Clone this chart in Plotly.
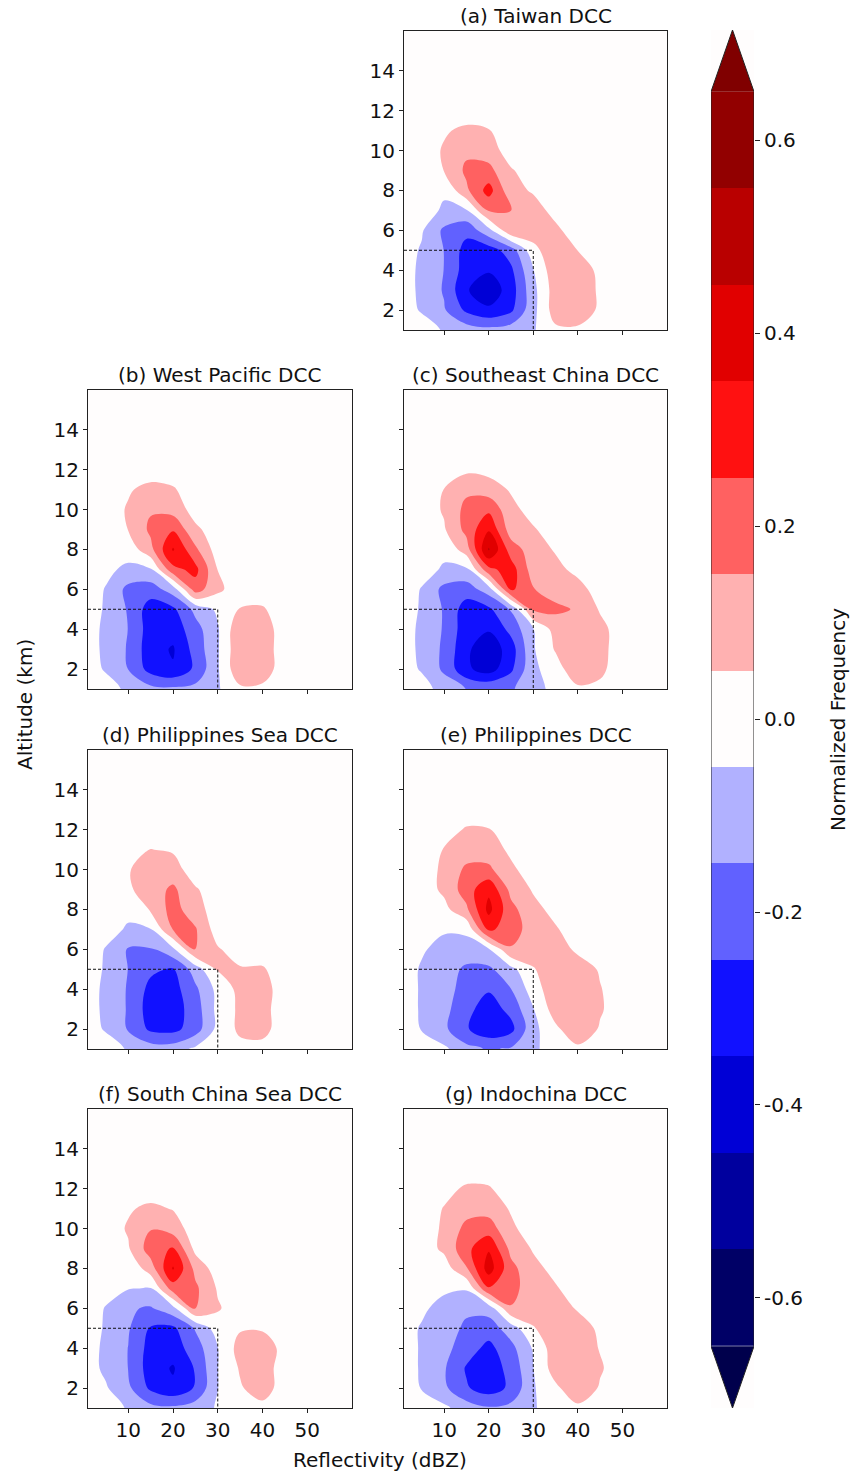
import numpy as np
import plotly.graph_objects as go

# Bin centres of the joint reflectivity / altitude histogram
DBZ = [0, 5, 10, 15, 20, 25, 30, 35, 40, 45, 50, 55, 60]
ALT = [1, 2, 3, 4, 5, 6, 7, 8, 9, 10, 11, 12, 13, 14, 15, 16]

# Normalized-frequency differences, rows = altitude 1..12 km, cols = 0..50 dBZ
# (higher altitudes / reflectivities are zero)
TAIWAN = [
    [0, 0, -0.06, -0.1, -0.12, -0.1, -0.06, 0.03, 0.03, 0.0, 0],
    [0, -0.06, -0.14, -0.27, -0.33, -0.27, -0.08, 0.1, 0.12, 0.03, 0],
    [0, -0.07, -0.16, -0.34, -0.42, -0.3, -0.08, 0.1, 0.13, 0.03, 0],
    [0, -0.07, -0.152, -0.3, -0.34, -0.27, -0.055, 0.12, 0.12, 0.02, 0],
    [0, -0.06, -0.152, -0.29, -0.3, -0.2, 0.02, 0.12, 0.048, 0, 0],
    [0, -0.04, -0.17, -0.22, -0.08, 0.13, 0.1, 0.07, 0, 0, 0],
    [0, -0.02, -0.06, -0.06, 0.16, 0.152, 0.09, 0.02, 0, 0, 0],
    [0, 0, -0.04, 0.13, 0.29, 0.08, 0.04, 0, 0, 0, 0],
    [0, 0, 0.052, 0.17, 0.18, 0.06, 0, 0, 0, 0, 0],
    [0, 0, 0.06, 0.13, 0.1, 0, 0, 0, 0, 0, 0],
    [0, 0, 0.04, 0.07, 0.055, 0, 0, 0, 0, 0, 0],
    [0, 0, 0, 0, 0, 0, 0, 0, 0, 0, 0],
]

WEST_PACIFIC = [
    [0, -0.01, -0.07, -0.12, -0.13, -0.12, -0.06, 0.03, 0.03, 0, 0],
    [0, -0.06, -0.152, -0.29, -0.34, -0.23, -0.06, 0.13, 0.1, 0, 0],
    [0, -0.07, -0.16, -0.31, -0.36, -0.21, -0.06, 0.13, 0.1, 0, 0],
    [0, -0.07, -0.152, -0.3, -0.31, -0.19, -0.06, 0.13, 0.1, 0, 0],
    [0, -0.06, -0.16, -0.3, -0.27, -0.12, -0.03, 0.055, 0.06, 0, 0],
    [0, -0.055, -0.18, -0.2, -0.1, 0.2, 0.07, 0.0, 0, 0, 0],
    [0, -0.03, -0.07, -0.06, 0.22, 0.28, 0.048, 0, 0, 0, 0],
    [0, 0, -0.01, 0.12, 0.36, 0.17, 0.0, 0, 0, 0, 0],
    [0, 0, 0.052, 0.17, 0.24, 0.07, 0, 0, 0, 0, 0],
    [0, 0, 0.06, 0.14, 0.11, 0.01, 0, 0, 0, 0, 0],
    [0, 0, 0.04, 0.08, 0.06, 0, 0, 0, 0, 0, 0],
    [0, 0, 0, 0, 0, 0, 0, 0, 0, 0, 0],
]

SOUTHEAST_CHINA = [
    [0, -0.01, -0.09, -0.152, -0.16, -0.16, -0.1, -0.01, 0.03, 0.03, 0],
    [0, -0.06, -0.17, -0.33, -0.4, -0.27, -0.07, 0.0, 0.13, 0.07, 0],
    [0, -0.07, -0.17, -0.33, -0.42, -0.3, -0.06, 0.06, 0.14, 0.08, 0],
    [0, -0.07, -0.16, -0.31, -0.34, -0.22, -0.055, 0.09, 0.12, 0.08, 0],
    [0, -0.06, -0.16, -0.3, -0.27, -0.14, 0.17, 0.17, 0.14, 0.04, 0],
    [0, -0.055, -0.18, -0.2, -0.1, 0.27, 0.155, 0.11, 0.09, 0.0, 0],
    [0, -0.02, -0.06, -0.07, 0.22, 0.3, 0.1, 0.08, 0.02, 0, 0],
    [0, 0, -0.03, 0.1, 0.46, 0.2, 0.1, 0.04, 0, 0, 0],
    [0, 0, 0.04, 0.18, 0.34, 0.1, 0.06, 0, 0, 0, 0],
    [0, 0, 0.06, 0.18, 0.23, 0.08, 0.01, 0, 0, 0, 0],
    [0, 0, 0.052, 0.13, 0.1, 0.04, 0, 0, 0, 0, 0],
    [0, 0, 0.01, 0.03, 0.02, 0, 0, 0, 0, 0, 0],
]

PHILIPPINES_SEA = [
    [0, 0, -0.06, -0.1, -0.1, -0.03, 0, 0.02, 0.02, 0, 0],
    [0, -0.06, -0.16, -0.27, -0.28, -0.2, -0.02, 0.07, 0.08, 0, 0],
    [0, -0.07, -0.16, -0.3, -0.3, -0.2, -0.02, 0.07, 0.08, 0, 0],
    [0, -0.07, -0.16, -0.28, -0.29, -0.17, -0.02, 0.08, 0.09, 0, 0],
    [0, -0.06, -0.152, -0.23, -0.26, -0.1, 0.06, 0.06, 0.06, 0, 0],
    [0, -0.055, -0.16, -0.16, -0.07, 0.155, 0.06, 0, 0, 0, 0],
    [0, -0.02, -0.06, -0.055, 0.155, 0.16, 0.0, 0, 0, 0, 0],
    [0, 0, -0.03, 0.06, 0.19, 0.09, 0, 0, 0, 0, 0],
    [0, 0, 0.035, 0.1, 0.17, 0.06, 0, 0, 0, 0, 0],
    [0, 0, 0.04, 0.12, 0.09, 0.0, 0, 0, 0, 0, 0],
    [0, 0, 0.02, 0.052, 0.04, 0, 0, 0, 0, 0, 0],
    [0, 0, 0, 0, 0, 0, 0, 0, 0, 0, 0],
]

PHILIPPINES = [
    [0, 0, -0.03, -0.12, -0.16, -0.14, -0.07, 0.0, 0.03, 0.03, 0],
    [0, -0.055, -0.13, -0.24, -0.32, -0.28, -0.08, 0.03, 0.12, 0.04, 0],
    [0, -0.06, -0.12, -0.22, -0.3, -0.22, -0.055, 0.1, 0.12, 0.06, 0],
    [0, -0.06, -0.1, -0.2, -0.24, -0.152, 0.0, 0.12, 0.12, 0.055, 0],
    [0, -0.06, -0.1, -0.17, -0.17, -0.08, 0.04, 0.13, 0.1, 0.04, 0],
    [0, -0.04, -0.08, -0.09, -0.06, 0.14, 0.12, 0.1, 0.03, 0, 0],
    [0, -0.02, -0.04, -0.03, 0.27, 0.2, 0.1, 0.06, 0.0, 0, 0],
    [0, 0, 0.02, 0.13, 0.38, 0.18, 0.08, 0.02, 0, 0, 0],
    [0, 0, 0.07, 0.2, 0.33, 0.12, 0.04, 0, 0, 0, 0],
    [0, 0, 0.07, 0.17, 0.17, 0.07, 0, 0, 0, 0, 0],
    [0, 0, 0.055, 0.1, 0.1, 0.03, 0, 0, 0, 0, 0],
    [0, 0, 0.01, 0.06, 0.055, 0, 0, 0, 0, 0, 0],
]

SOUTH_CHINA_SEA = [
    [0, 0, -0.06, -0.12, -0.13, -0.1, -0.04, 0.0, 0.02, 0, 0],
    [0, -0.04, -0.13, -0.27, -0.33, -0.24, -0.052, 0.04, 0.1, 0.0, 0],
    [0, -0.07, -0.152, -0.3, -0.36, -0.24, -0.052, 0.06, 0.1, 0.0, 0],
    [0, -0.07, -0.152, -0.29, -0.3, -0.2, -0.052, 0.09, 0.1, 0.02, 0],
    [0, -0.06, -0.14, -0.26, -0.27, -0.14, 0.0, 0.04, 0.04, 0.0, 0],
    [0, -0.055, -0.14, -0.16, -0.08, 0.16, 0.06, 0.0, 0, 0, 0],
    [0, -0.02, -0.045, -0.055, 0.2, 0.17, 0.04, 0, 0, 0, 0],
    [0, 0, -0.03, 0.1, 0.36, 0.12, 0.0, 0, 0, 0, 0],
    [0, 0, 0.04, 0.2, 0.26, 0.02, 0, 0, 0, 0, 0],
    [0, 0, 0.06, 0.145, 0.1, 0.0, 0, 0, 0, 0, 0],
    [0, 0, 0.04, 0.07, 0.045, 0, 0, 0, 0, 0, 0],
    [0, 0, 0, 0, 0, 0, 0, 0, 0, 0, 0],
]

INDOCHINA = [
    [0, 0, -0.03, -0.1, -0.14, -0.12, -0.06, 0.0, 0.03, 0.02, 0],
    [0, -0.055, -0.13, -0.24, -0.3, -0.23, -0.06, 0.03, 0.12, 0.04, 0],
    [0, -0.06, -0.14, -0.26, -0.3, -0.22, -0.052, 0.1, 0.12, 0.06, 0],
    [0, -0.06, -0.12, -0.2, -0.28, -0.18, -0.04, 0.11, 0.1, 0.045, 0],
    [0, -0.06, -0.1, -0.17, -0.2, -0.1, 0.04, 0.13, 0.1, 0.03, 0],
    [0, -0.03, -0.09, -0.13, -0.11, 0.14, 0.12, 0.1, 0.04, 0, 0],
    [0, -0.02, -0.03, -0.04, 0.24, 0.2, 0.07, 0.06, 0.0, 0, 0],
    [0, 0, 0.0, 0.14, 0.4, 0.18, 0.08, 0.02, 0, 0, 0],
    [0, 0, 0.07, 0.22, 0.34, 0.12, 0.04, 0, 0, 0, 0],
    [0, 0, 0.065, 0.18, 0.2, 0.07, 0.0, 0, 0, 0, 0],
    [0, 0, 0.055, 0.11, 0.11, 0.04, 0, 0, 0, 0, 0],
    [0, 0, 0.02, 0.065, 0.06, 0.0, 0, 0, 0, 0, 0],
]

TITLES = [
    "(a) Taiwan DCC",
    "(b) West Pacific DCC",
    "(c) Southeast China DCC",
    "(d) Philippines Sea DCC",
    "(e) Philippines DCC",
    "(f) South China Sea DCC",
    "(g) Indochina DCC",
]
FIELDS = [TAIWAN, WEST_PACIFIC, SOUTHEAST_CHINA, PHILIPPINES_SEA,
          PHILIPPINES, SOUTH_CHINA_SEA, INDOCHINA]

# Convective / freezing-level reference lines
REF_DBZ = 30
REF_KM = 5

X_TICKS = [10, 20, 30, 40, 50]
Y_TICKS = [2, 4, 6, 8, 10, 12, 14]
CBAR_BANDS = [-0.6, -0.5, -0.4, -0.3, -0.2, -0.1, 0.0, 0.1, 0.2, 0.3, 0.4, 0.5, 0.6]
CBAR_TICKS = [-0.6, -0.4, -0.2, 0.0, 0.2, 0.4, 0.6]
CBAR_TEXT = ["-0.6", "-0.4", "-0.2", "0.0", "0.2", "0.4", "0.6"]

# Discrete seismic palette, one colour per 0.1-wide band from -0.7 to 0.7
BAND_COLORS = ["#00004c", "#000066", "#00009e", "#0000d6", "#1111ff", "#6161ff",
               "#b1b1ff", "#fffdfd", "#ffb1b1", "#ff6161", "#ff1111", "#e10000",
               "#b90000", "#920000", "#800000"]
COLORSCALE = [[i / 14, c] for i, c in enumerate(BAND_COLORS)]

W, H = 858, 1472
FONT = dict(family="DejaVu Sans", size=20, color="#111111")


def full_grid(rows):
    """Place the table on the full bin grid, then add one repeated border
    cell on every side so the filled contours run past the axis frame."""
    z = np.zeros((len(ALT), len(DBZ)))
    arr = np.array(rows, dtype=float)
    z[:arr.shape[0], :arr.shape[1]] = arr
    return np.pad(z, 1, mode="edge")


GRID_X = [DBZ[0] - 5] + DBZ + [DBZ[-1] + 5]
GRID_Y = [ALT[0] - 1] + ALT + [ALT[-1] + 1]


def px_x(p):
    return p / W


def px_y(p):
    return 1 - p / H


COL_L = (88, 352)
COL_R = (404, 667)
ROWS = [(31, 330), (390, 689), (750, 1049), (1109, 1408)]
# (column, row, y tick labels shown, x tick labels shown)
PLACES = [
    (COL_R, ROWS[0], True, False),
    (COL_L, ROWS[1], True, False),
    (COL_R, ROWS[1], False, False),
    (COL_L, ROWS[2], True, False),
    (COL_R, ROWS[2], False, False),
    (COL_L, ROWS[3], True, True),
    (COL_R, ROWS[3], False, True),
]

fig = go.Figure()
layout = {}
annotations = []

for i, (field, title, (col, row, ylab, xlab)) in enumerate(zip(FIELDS, TITLES, PLACES), start=1):
    xa, ya = f"x{i}", f"y{i}"
    fig.add_trace(go.Contour(
        x=GRID_X, y=GRID_Y, z=full_grid(field),
        xaxis=xa, yaxis=ya,
        colorscale=COLORSCALE, showscale=False, autocontour=False,
        contours=dict(start=-0.65, end=0.65, size=0.1, coloring="fill", showlines=False),
        line=dict(width=0, smoothing=1.0),
        hoverinfo="skip",
    ))
    fig.add_trace(go.Scatter(
        x=[1, REF_DBZ, REF_DBZ], y=[REF_KM, REF_KM, 1],
        xaxis=xa, yaxis=ya, mode="lines",
        line=dict(color="#111111", width=1, dash="3px,2px"),
        hoverinfo="skip", showlegend=False,
    ))
    common = dict(showline=True, mirror=True, linecolor="#222222", linewidth=1,
                  ticks="outside", ticklen=4, tickwidth=1, tickcolor="#222222",
                  showgrid=False, zeroline=False, tickfont=FONT, tickmode="array")
    layout[f"xaxis{i}"] = dict(domain=[px_x(col[0]), px_x(col[1])], range=[1, 60],
                               tickvals=X_TICKS, showticklabels=xlab, anchor=ya, **common)
    layout[f"yaxis{i}"] = dict(domain=[px_y(row[1]), px_y(row[0])], range=[1, 16],
                               tickvals=Y_TICKS, showticklabels=ylab, anchor=xa, **common)
    annotations.append(dict(text=title, x=px_x((col[0] + col[1]) / 2), y=px_y(row[0] - 15),
                            xref="paper", yref="paper", xanchor="center", yanchor="middle",
                            showarrow=False, font=FONT))

# Colour bar with triangular extensions
E = 0.064
fig.add_trace(go.Heatmap(
    x=[0.25, 0.75], y=CBAR_BANDS, z=[[v, v] for v in CBAR_BANDS],
    colorscale=COLORSCALE, zmin=-0.7, zmax=0.7, showscale=False,
    xaxis="x8", yaxis="y8", hoverinfo="skip",
))
fig.add_trace(go.Scatter(
    x=[0, 1, 0.5, 0], y=[0.65, 0.65, 0.65 + E, 0.65], fill="toself",
    fillcolor=BAND_COLORS[-1], mode="lines", line=dict(width=0),
    xaxis="x8", yaxis="y8", hoverinfo="skip", showlegend=False, cliponaxis=False,
))
fig.add_trace(go.Scatter(
    x=[0, 1, 0.5, 0], y=[-0.65, -0.65, -0.65 - E, -0.65], fill="toself",
    fillcolor=BAND_COLORS[0], mode="lines", line=dict(width=0),
    xaxis="x8", yaxis="y8", hoverinfo="skip", showlegend=False, cliponaxis=False,
))
fig.add_trace(go.Scatter(
    x=[0, 0, 0.5, 1, 1, 0.5, 0], y=[-0.65, 0.65, 0.65 + E, 0.65, -0.65, -0.65 - E, -0.65],
    mode="lines", line=dict(color="#222222", width=1),
    xaxis="x8", yaxis="y8", hoverinfo="skip", showlegend=False, cliponaxis=False,
))
layout["xaxis8"] = dict(domain=[px_x(711), px_x(754)], range=[0, 1], visible=False,
                        anchor="y8", fixedrange=True)
layout["yaxis8"] = dict(domain=[px_y(1408), px_y(30)], range=[-0.65 - E, 0.65 + E],
                        anchor="x8", side="right", tickmode="array", tickvals=CBAR_TICKS,
                        ticktext=CBAR_TEXT, ticks="outside", ticklen=5, tickwidth=1,
                        tickcolor="#222222", showline=False, showgrid=False, zeroline=False,
                        tickfont=FONT)

annotations += [
    dict(text="Altitude (km)", x=px_x(25), y=px_y(705), textangle=-90),
    dict(text="Reflectivity (dBZ)", x=px_x(380), y=px_y(1460)),
    dict(text="Normalized Frequency", x=px_x(838), y=px_y(720), textangle=-90),
]
for a in annotations[-3:]:
    a.update(xref="paper", yref="paper", xanchor="center", yanchor="middle",
             showarrow=False, font=FONT)

fig.update_layout(
    width=W, height=H, margin=dict(l=0, r=0, t=0, b=0),
    paper_bgcolor="white", plot_bgcolor=BAND_COLORS[7],
    showlegend=False, annotations=annotations, **layout,
)

fig.write_html("out.html")
